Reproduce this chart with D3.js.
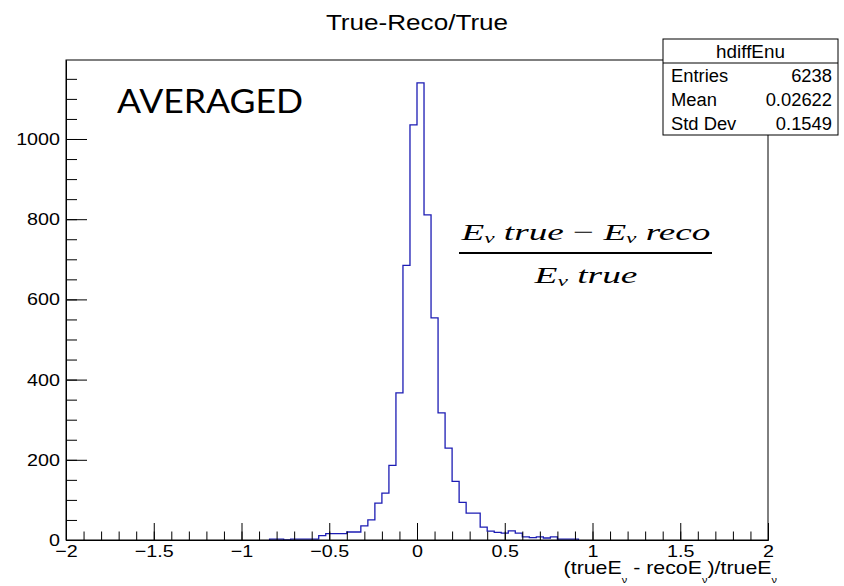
<!DOCTYPE html>
<html>
<head>
<meta charset="utf-8">
<script src="https://cdn.jsdelivr.net/npm/d3@7"></script>
<style>
  html, body { margin: 0; padding: 0; background: #fff; }
  svg { display: block; }
  text { fill: #000; }
</style>
</head>
<body>
<svg id="chart" width="844" height="586"></svg>
<script>
// Histogram hdiffEnu: 100 bins on [-2, 2]; only the populated span is listed.
const binWidth = 0.04;
const firstBinLow = -0.84;
const counts = [
  2, 2, 0, 2, 2, 2, 2, 11, 16, 16,
  16, 20, 20, 35, 50, 92, 117, 186, 367, 685,
  1035, 1140, 811, 554, 317, 229, 146, 94, 67, 67,
  32, 22, 19, 17, 23, 17, 8, 6, 8, 5,
  8, 2, 2, 2
];

const xDomain = [-2, 2];
const yMax = 1197;
const xMajorTicks = [-2, -1.5, -1, -0.5, 0, 0.5, 1, 1.5, 2];
const xTickLabels = ["\u22122", "\u22121.5", "\u22121", "\u22120.5", "0", "0.5", "1", "1.5", "2"];
const xMinorTicks = d3.range(-20, 21).map(i => i / 10);
const yMajorTicks = [0, 200, 400, 600, 800, 1000];
const yTickLabels = ["0", "200", "400", "600", "800", "1000"];
const yMinorTicks = d3.range(0, 24).map(i => i * 50);

const statsTitle = "hdiffEnu";
const statsRows = [
  ["Entries", "6238"],
  ["Mean", "0.02622"],
  ["Std Dev", "0.1549"]
];

const plotTitle = "True-Reco/True";
const note = "AVERAGED";

const SANS = "'Liberation Sans', Arial, Helvetica, sans-serif";
const SERIF = "'Liberation Serif', 'DejaVu Serif', serif";

// Frame geometry
const frame = { left: 66, right: 768, top: 60, bottom: 540 };
const stretch = 1.16; // horizontal text scaling

const svg = d3.select("#chart");
const x = d3.scaleLinear().domain(xDomain).range([frame.left, frame.right]);
const y = d3.scaleLinear().domain([0, yMax]).range([frame.bottom, frame.top]);

// Title
svg.append("text")
  .attr("transform", `translate(${(frame.left + frame.right) / 2},30) scale(${stretch},1)`)
  .attr("text-anchor", "middle")
  .style("font-family", SANS)
  .style("font-size", "22.5px")
  .text(plotTitle);

// Histogram step outline
const pts = [];
counts.forEach((c, i) => {
  const lo = firstBinLow + i * binWidth;
  const hi = lo + binWidth;
  pts.push([lo, c], [hi, c]);
});
const first = firstBinLow;
const last = firstBinLow + counts.length * binWidth;
const line = d3.line().x(d => x(d[0])).y(d => y(d[1]));
svg.append("path")
  .datum([[first, 0], ...pts, [last, 0]])
  .attr("d", line)
  .attr("fill", "none")
  .attr("stroke", "#1c1cb4")
  .attr("stroke-width", 1.3);

// Frame
svg.append("rect")
  .attr("x", frame.left).attr("y", frame.top)
  .attr("width", frame.right - frame.left)
  .attr("height", frame.bottom - frame.top)
  .attr("fill", "none").attr("stroke", "#000").attr("stroke-width", 1);

// X axis: minor ticks, then major ticks with labels (ticks point into the frame)
const xMinor = svg.append("g").attr("transform", `translate(0,${frame.bottom})`)
  .call(d3.axisBottom(x).tickValues(xMinorTicks).tickSize(-8.5).tickSizeOuter(0).tickFormat(""));
const xMajor = svg.append("g").attr("transform", `translate(0,${frame.bottom})`)
  .call(d3.axisBottom(x).tickValues(xMajorTicks).tickSize(-17).tickSizeOuter(0).tickPadding(5)
    .tickFormat((d, i) => xTickLabels[i]));

// Y axis
const yMinor = svg.append("g").attr("transform", `translate(${frame.left},0)`)
  .call(d3.axisLeft(y).tickValues(yMinorTicks).tickSize(-11).tickSizeOuter(0).tickFormat(""));
const yMajor = svg.append("g").attr("transform", `translate(${frame.left},0)`)
  .call(d3.axisLeft(y).tickValues(yMajorTicks).tickSize(-21).tickSizeOuter(0).tickPadding(6)
    .tickFormat((d, i) => yTickLabels[i]));

[xMinor, xMajor, yMinor, yMajor].forEach(g => {
  g.selectAll(".domain").attr("stroke", "#000");
  g.selectAll(".tick line").attr("stroke", "#000");
  g.selectAll("text").style("font-size", "17px").attr("fill", "#000")
    .style("font-family", SANS);
});
xMajor.selectAll("text").attr("transform", `scale(${stretch},1)`);
yMajor.selectAll("text").each(function () {
  const t = d3.select(this);
  const xx = +t.attr("x");
  t.attr("x", xx / stretch).attr("transform", `scale(${stretch},1)`);
});

// X axis title with subscripts
const xt = svg.append("text")
  .attr("text-anchor", "end")
  .style("font-family", SANS)
  .style("font-size", "17.5px");
const parts = [["(trueE", false], ["\u03bd", true], [" - recoE", false], ["\u03bd", true], [")/trueE", false], ["\u03bd", true]];
parts.forEach(([s, sub], i) => {
  const ts = xt.append("tspan").text(s);
  if (sub) ts.style("font-size", "9px").attr("dy", 9);
  else ts.attr("dy", i > 0 && parts[i - 1][1] ? -9 : 0);
});
xt.attr("transform", `translate(777,574) scale(1.22,1)`);

// Stats box
const box = { x: 663, y: 39, w: 175, h: 96, head: 24 };
const statStretch = 1.02;
const sg = svg.append("g");
sg.append("rect").attr("x", box.x).attr("y", box.y).attr("width", box.w).attr("height", box.h)
  .attr("fill", "#fff").attr("stroke", "#000").attr("stroke-width", 1);
sg.append("line").attr("x1", box.x).attr("x2", box.x + box.w)
  .attr("y1", box.y + box.head).attr("y2", box.y + box.head).attr("stroke", "#000");
sg.append("text")
  .attr("transform", `translate(${box.x + box.w / 2},${box.y + 18.5}) scale(${statStretch},1)`)
  .attr("text-anchor", "middle").style("font-family", SANS).style("font-size", "18.5px").text(statsTitle);
const rowH = (box.h - box.head) / statsRows.length;
statsRows.forEach((r, i) => {
  const by = box.y + box.head + rowH * i + rowH / 2 + 6.5;
  sg.append("text").attr("transform", `translate(${box.x + 8},${by}) scale(${statStretch},1)`)
    .style("font-family", SANS).style("font-size", "18px").text(r[0]);
  sg.append("text").attr("transform", `translate(${box.x + box.w - 6},${by}) scale(${statStretch},1)`)
    .attr("text-anchor", "end").style("font-family", SANS).style("font-size", "18px").text(r[1]);
});

// Annotation
svg.append("text")
  .attr("x", 117).attr("y", 113)
  .style("font-family", "Lato, 'Open Sans', sans-serif")
  .style("font-size", "32px")
  .attr("textLength", 186).attr("lengthAdjust", "spacingAndGlyphs")
  .text(note);

// Formula (E_ν true − E_ν reco) / (E_ν true)
const fx = 586;
const fg = svg.append("g");
function formulaText(yy, pieces, width) {
  const t = fg.append("text").attr("x", fx).attr("y", yy).attr("text-anchor", "middle")
    .style("font-family", SERIF)
    .style("font-size", "24px");
  pieces.forEach(([s, kind], i) => {
    const ts = t.append("tspan").text(s);
    const prevSub = i > 0 && pieces[i - 1][1] === "sub";
    if (kind === "sub") ts.style("font-size", "15px").style("font-style", "italic").attr("dy", 3);
    else {
      if (kind === "it") ts.style("font-style", "italic");
      ts.attr("dy", prevSub ? -3 : 0);
    }
  });
  t.attr("textLength", width).attr("lengthAdjust", "spacingAndGlyphs");
  return t;
}
formulaText(240, [["E", "it"], ["\u03bd", "sub"], [" true  ", "it"], ["\u2212 ", "up"], ["E", "it"], ["\u03bd", "sub"], [" reco", "it"]], 249);
fg.append("line").attr("x1", 459).attr("x2", 712).attr("y1", 253).attr("y2", 253)
  .attr("stroke", "#000").attr("stroke-width", 2);
formulaText(283, [["E", "it"], ["\u03bd", "sub"], [" true", "it"]], 103);
</script>
</body>
</html>
